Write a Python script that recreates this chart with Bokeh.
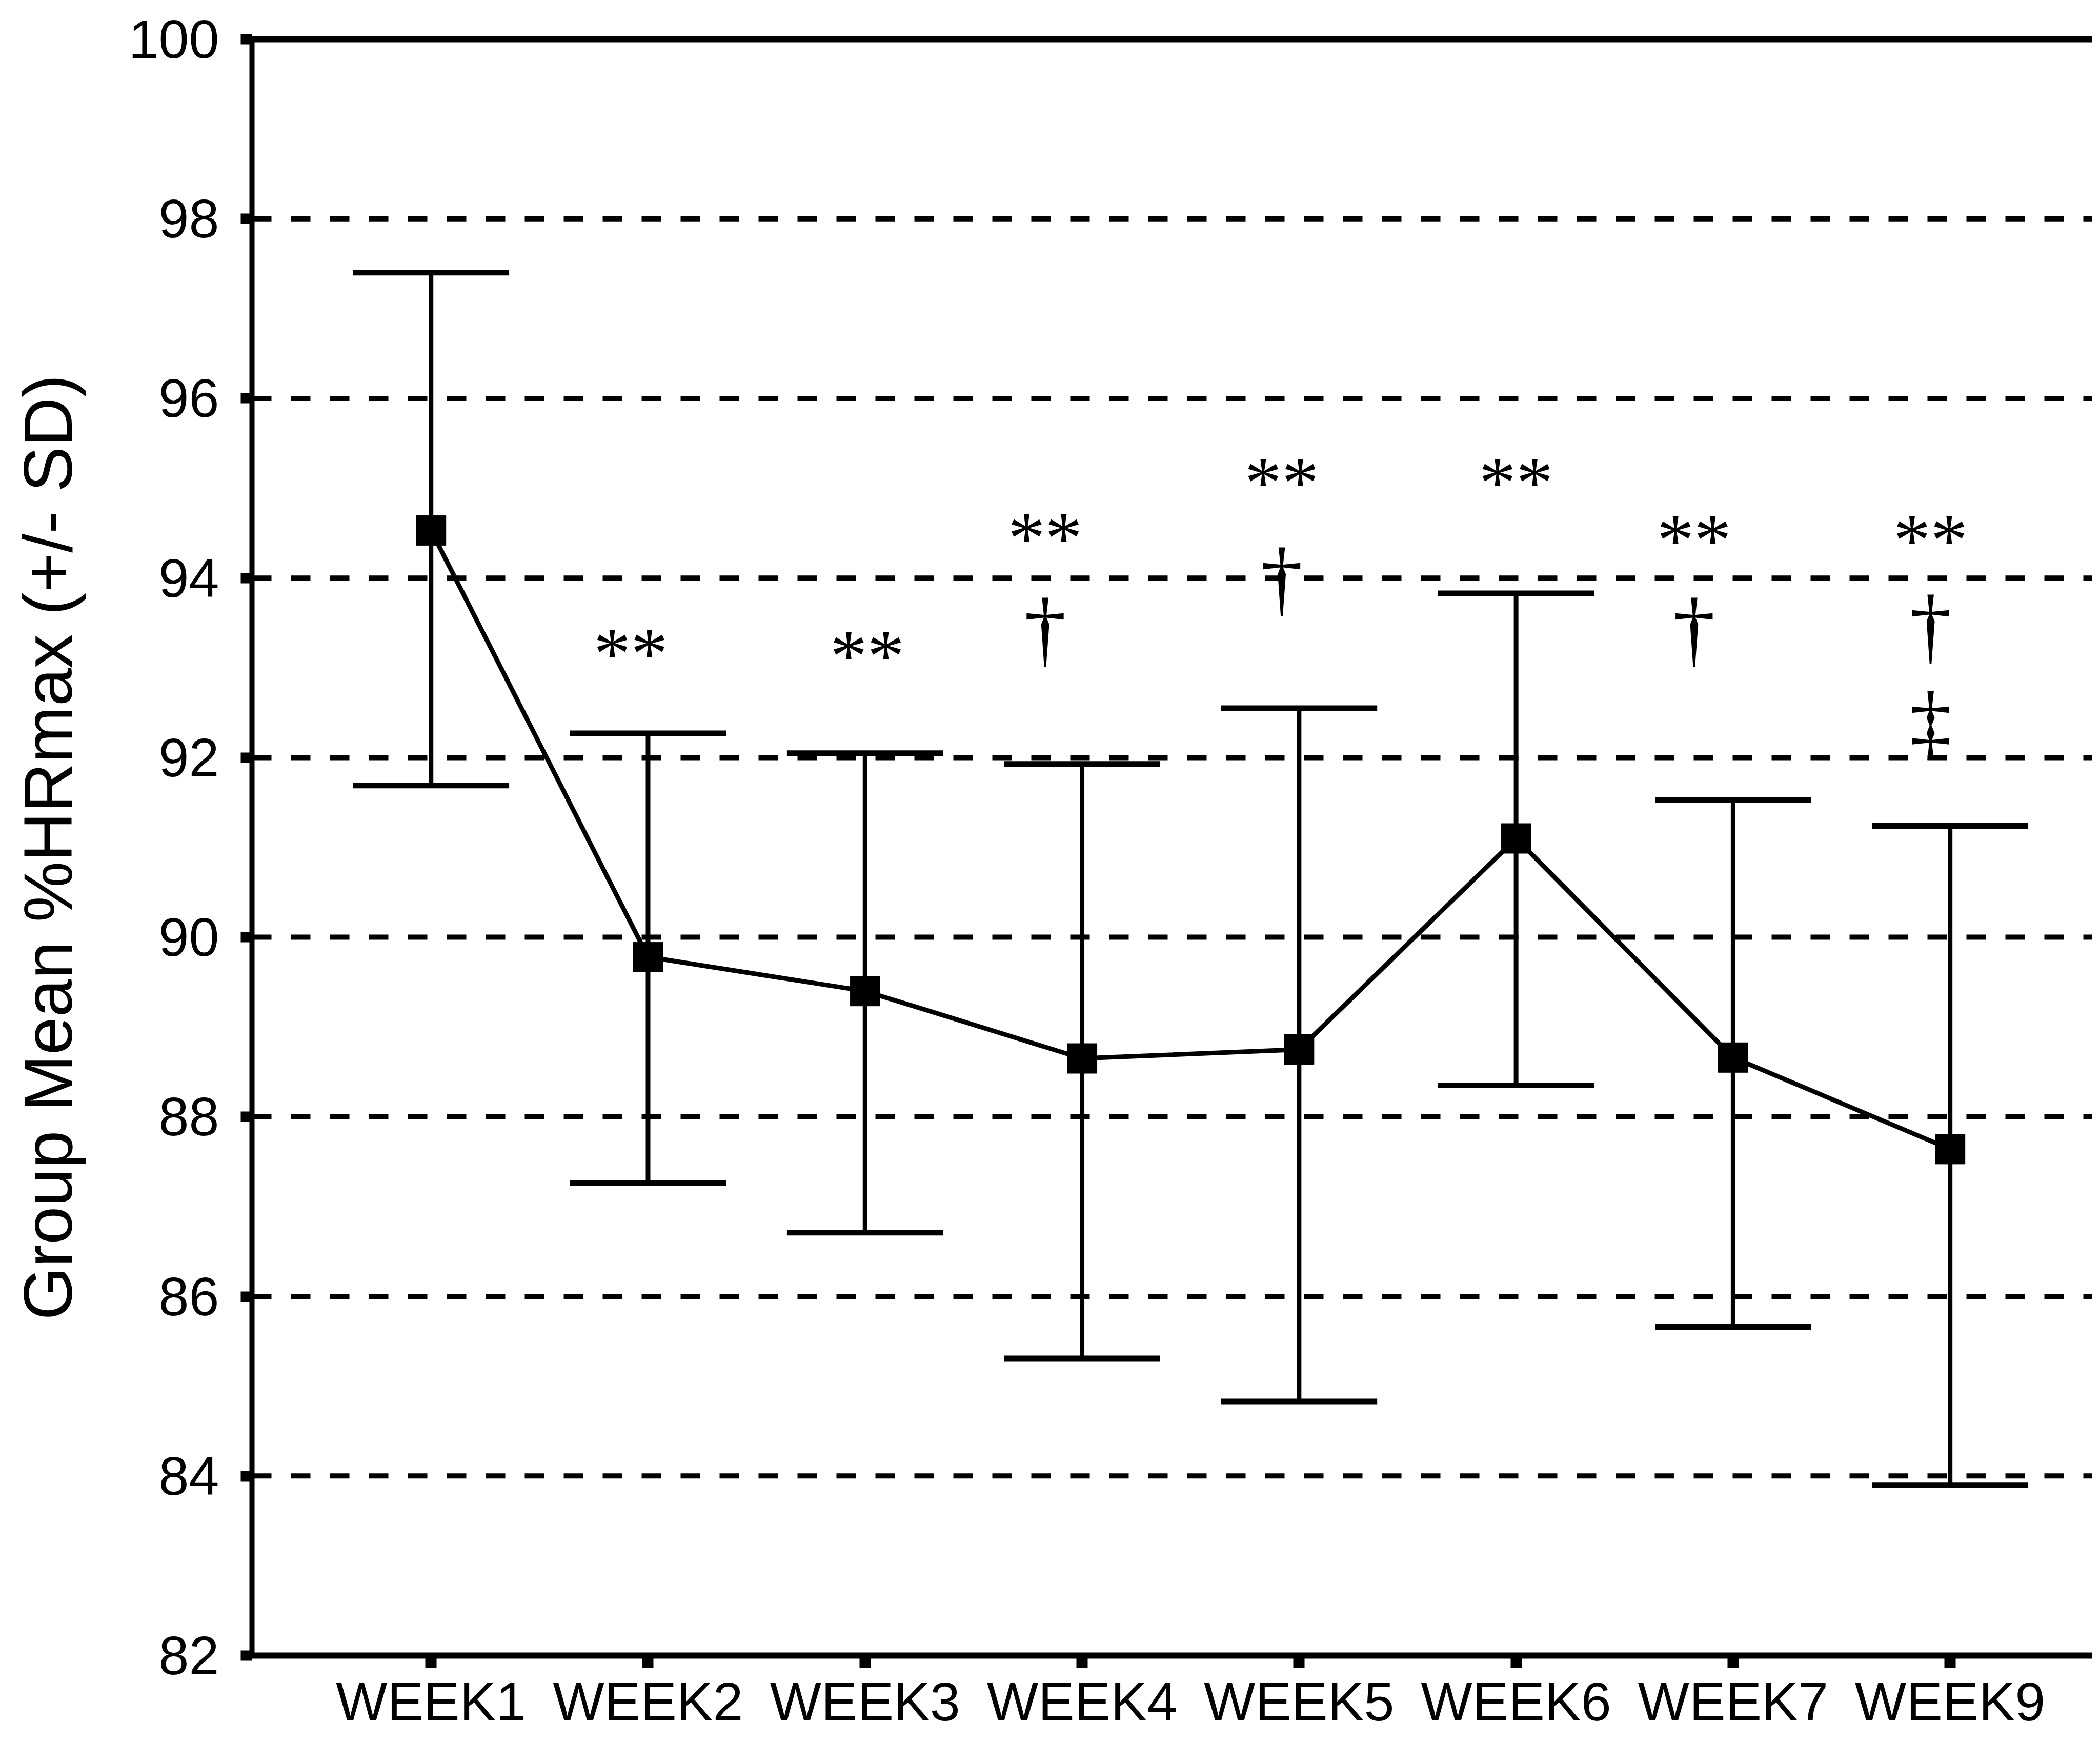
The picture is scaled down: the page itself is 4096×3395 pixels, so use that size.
from bokeh.plotting import figure
from bokeh.models import Range1d, FixedTicker, LinearAxis, ColumnDataSource, Span
from bokeh.embed import file_html
from bokeh.resources import INLINE
from bokeh.core.properties import value

# ---- data ----
weeks = ["WEEK1", "WEEK2", "WEEK3", "WEEK4", "WEEK5", "WEEK6", "WEEK7", "WEEK9"]
xpos = [1, 2, 3, 4, 5, 6, 7, 8]
means = [94.53, 89.78, 89.40, 88.65, 88.75, 91.10, 88.66, 87.64]
upper = [97.40, 92.27, 92.05, 91.93, 92.55, 93.83, 91.53, 91.24]
lower = [91.69, 87.26, 86.71, 85.31, 84.83, 88.35, 85.66, 83.90]

y_ticks = [82, 84, 86, 88, 90, 92, 94, 96, 98, 100]
grid_levels = [84, 86, 88, 90, 92, 94, 96, 98]

star_x = [1.92, 3.01, 3.83, 4.92, 6.00, 6.82, 7.91]
star_y = [93.25, 93.22, 94.53, 95.15, 95.15, 94.51, 94.51]
dagger_x = [3.83, 4.92, 6.82, 7.91]
dagger_y = [93.44, 94.00, 93.44, 93.47]
ddagger_x = [7.91]
ddagger_y = [92.40]

FONT = "Liberation Sans"
W, H = 4080, 3379

p = figure(width=W, height=H, output_backend="svg", toolbar_location=None,
           x_range=Range1d(0.175, 8.654), y_range=Range1d(82, 100),
           min_border_left=491, min_border_right=0, min_border_top=76,
           min_border_bottom=150)
p.outline_line_color = None
p.background_fill_color = "white"
p.border_fill_color = "white"
p.xgrid.visible = False
p.ygrid.visible = False

# dashed horizontal gridlines
for g in grid_levels:
    p.add_layout(Span(location=g, dimension="width", line_color="black",
                      line_width=10, line_dash="38 38"))

# top border (an unlabeled axis line with no ticks)
top_axis = LinearAxis(ticker=FixedTicker(ticks=[]), axis_line_width=12,
                      axis_line_color="black", major_tick_line_color=None,
                      minor_tick_line_color=None, major_label_standoff=0,
                      major_tick_out=0, major_tick_in=0)
p.add_layout(top_axis, "above")

# y axis
ya = p.left[0]
ya.ticker = FixedTicker(ticks=y_ticks)
ya.axis_line_width = 10
ya.major_tick_line_width = 20
ya.major_tick_out = 22
ya.major_tick_in = 0
ya.minor_tick_line_color = None
ya.major_label_text_font = FONT
ya.major_label_text_font_size = "106px"
ya.major_label_text_color = "black"
ya.major_label_standoff = 42
ya.axis_label = "Group Mean %HRmax (+/- SD)"
ya.axis_label_text_font = FONT
ya.axis_label_text_font_size = "133px"
ya.axis_label_text_font_style = "normal"
ya.axis_label_text_color = "black"
ya.axis_label_standoff = 80

# x axis
xa = p.below[0]
xa.ticker = FixedTicker(ticks=xpos)
xa.major_label_overrides = {x: w for x, w in zip(xpos, weeks)}
xa.axis_line_width = 12
xa.major_tick_line_width = 22
xa.major_tick_out = 24
xa.major_tick_in = 0
xa.minor_tick_line_color = None
xa.major_label_text_font = FONT
xa.major_label_text_font_size = "106px"
xa.major_label_text_color = "black"
xa.major_label_standoff = 6

# error bars
src = ColumnDataSource(dict(x=xpos, m=means, up=upper, lo=lower,
                            xl=[x - 0.36 for x in xpos], xr=[x + 0.36 for x in xpos]))
p.segment(x0="x", y0="lo", x1="x", y1="up", source=src, line_color="black", line_width=9)
p.segment(x0="xl", y0="up", x1="xr", y1="up", source=src, line_color="black", line_width=11)
p.segment(x0="xl", y0="lo", x1="xr", y1="lo", source=src, line_color="black", line_width=11)

# mean line and markers
p.line(x="x", y="m", source=src, line_color="black", line_width=9)
p.scatter(x="x", y="m", source=src, marker="square", size=58,
          fill_color="black", line_color="black")

# significance annotations
SERIF = "Liberation Serif"
sfs, dfs = 145, 165
p.text(x=star_x, y=star_y, text=["**"] * len(star_x), text_font=value(SERIF),
       text_font_size=f"{sfs}px", text_align="center", text_baseline="alphabetic",
       y_offset=15, text_color="black")
p.text(x=dagger_x, y=dagger_y, text=["\u2020"] * len(dagger_x), text_font=value(SERIF),
       text_font_size=f"{dfs}px", text_align="center", text_baseline="alphabetic",
       y_offset=0, text_color="black")
p.text(x=ddagger_x, y=ddagger_y, text=["\u2021"] * len(ddagger_x), text_font=value(SERIF),
       text_font_size=f"{dfs}px", text_align="center", text_baseline="alphabetic",
       y_offset=0, text_color="black")

open("out.html", "w").write(file_html(p, INLINE))
